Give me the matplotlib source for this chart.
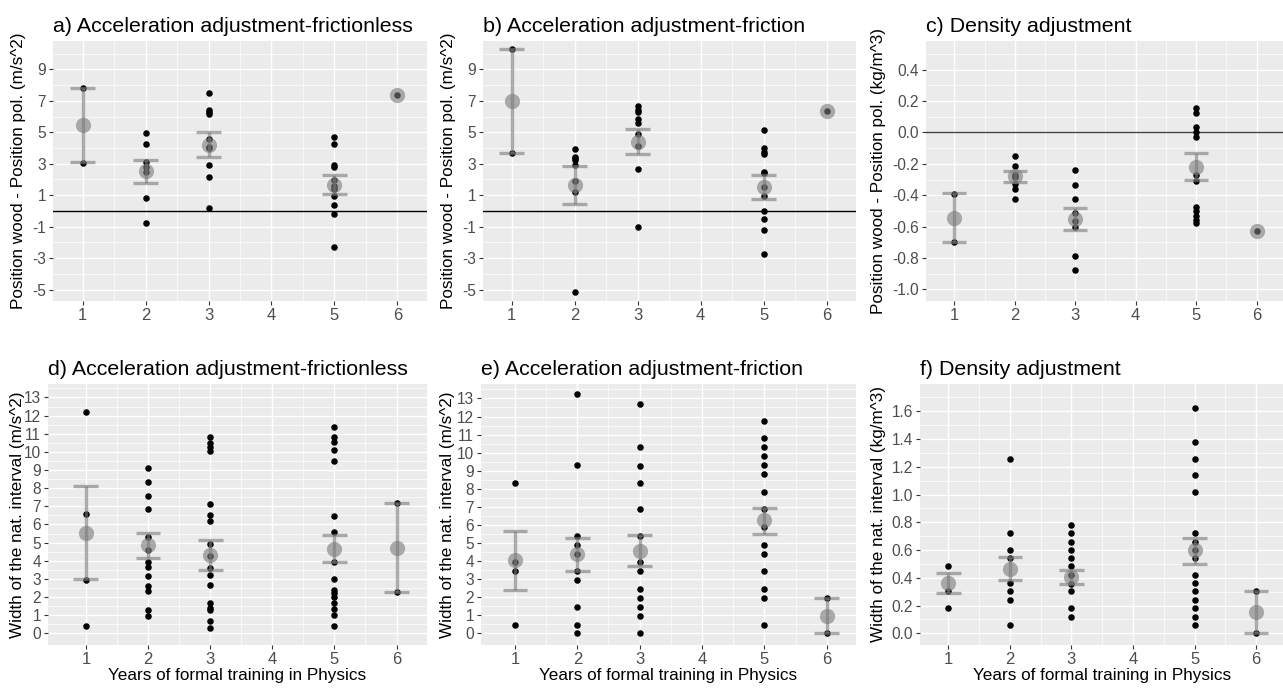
import numpy as np
import matplotlib.pyplot as plt
from matplotlib.ticker import FixedLocator, FormatStrFormatter

plt.rcParams['font.family'] = ['Liberation Sans', 'DejaVu Sans']

years = [1, 2, 3, 5, 6]

# a) position wood - position pol., acceleration frictionless
a_pts = {1: [7.84, 3.04],
         2: [4.95, 4.25, 3.13, 2.77, 2.5, 0.83, -0.78],
         3: [7.5, 6.4, 6.3, 6.15, 4.6, 4.08, 3.97, 2.92, 2.14, 0.17],
         5: [4.73, 4.25, 2.92, 2.81, 1.97, 1.61, 1.4, 0.97, 0.4, -0.17, -2.26],
         6: [7.35]}
a_mean = [5.47, 2.52, 4.2, 1.67, 7.35]
a_lo = [3.09, 1.78, 3.44, 1.1, np.nan]
a_hi = [7.84, 3.26, 5.0, 2.28, np.nan]

# b) acceleration with friction
b_pts = {1: [10.27, 3.66],
         2: [3.93, 3.45, 3.37, 3.23, 2.94, 1.93, 1.23, -5.15],
         3: [6.66, 6.4, 6.3, 5.87, 5.62, 4.88, 4.14, 2.66, -0.99],
         5: [5.13, 3.97, 3.76, 3.61, 2.45, 2.39, 1.5, 0.97, -0.02, -0.5, -1.24, -2.72],
         6: [6.38]}
b_mean = [7.0, 1.65, 4.4, 1.54, 6.38]
b_lo = [3.66, 0.47, 3.61, 0.76, np.nan]
b_hi = [10.27, 2.83, 5.2, 2.28, np.nan]

# c) density
c_pts = {1: [-0.39, -0.695],
         2: [-0.153, -0.214, -0.271, -0.286, -0.328, -0.36, -0.424],
         3: [-0.24, -0.333, -0.424, -0.513, -0.561, -0.604, -0.786, -0.875],
         5: [0.155, 0.121, 0.032, 0.006, -0.032, -0.273, -0.307, -0.477, -0.502,
             -0.53, -0.555, -0.576],
         6: [-0.631]}
c_mean = [-0.545, -0.28, -0.551, -0.218, -0.631]
c_lo = [-0.695, -0.318, -0.619, -0.305, np.nan]
c_hi = [-0.388, -0.244, -0.481, -0.131, np.nan]

# d) interval width, frictionless
d_pts = {1: [12.18, 6.56, 2.93, 0.4],
         2: [9.12, 8.33, 7.55, 6.87, 5.31, 4.62, 3.94, 3.66, 3.17, 2.62, 2.34, 1.28, 0.97],
         3: [10.8, 10.48, 10.26, 10.07, 7.14, 6.5, 6.17, 4.91, 4.25, 3.61, 3.24, 2.66,
             1.68, 1.41, 1.28, 0.7, 0.31],
         5: [11.39, 10.8, 10.53, 10.11, 9.52, 6.47, 5.59, 3.94, 2.97, 2.38, 2.25, 1.98,
             1.68, 1.32, 1.01, 0.4],
         6: [7.18, 2.29]}
d_mean = [5.53, 4.85, 4.3, 4.63, 4.73]
d_lo = [2.99, 4.16, 3.48, 3.92, 2.29]
d_hi = [8.1, 5.53, 5.13, 5.4, 7.18]

# e) interval width, friction
e_pts = {1: [8.32, 3.93, 3.44, 0.49],
         2: [13.22, 9.32, 5.39, 4.9, 4.42, 3.44, 2.93, 1.46, 0.49, 0.0],
         3: [12.72, 10.29, 9.29, 8.32, 6.86, 5.39, 3.93, 3.44, 2.47, 1.97, 1.46, 0.97, 0.0],
         5: [11.75, 10.79, 10.29, 9.8, 9.32, 8.81, 7.82, 6.86, 5.89, 4.9, 4.42, 3.44,
             2.47, 1.97, 0.49],
         6: [1.97, 0.0]}
e_mean = [4.08, 4.42, 4.57, 6.25, 0.99]
e_lo = [2.43, 3.47, 3.71, 5.52, 0.0]
e_hi = [5.67, 5.3, 5.45, 6.95, 1.97]

# f) interval width, density
f_pts = {1: [0.482, 0.303, 0.179],
         2: [1.258, 0.721, 0.602, 0.542, 0.363, 0.303, 0.239, 0.06],
         3: [0.783, 0.721, 0.661, 0.602, 0.542, 0.482, 0.423, 0.358, 0.303, 0.179, 0.119],
         5: [1.624, 1.38, 1.258, 1.141, 1.02, 0.721, 0.661, 0.602, 0.542, 0.423, 0.363,
             0.303, 0.239, 0.179, 0.119, 0.06],
         6: [0.303, 0.0]}
f_mean = [0.363, 0.461, 0.406, 0.597, 0.155]
f_lo = [0.287, 0.382, 0.353, 0.501, 0.0]
f_hi = [0.437, 0.549, 0.454, 0.688, 0.303]

W, H = 1283, 688
fig = plt.figure(figsize=(W / 100, H / 100), dpi=100)
fig.patch.set_facecolor('white')

GREY = '#7a7a7a'


def add_panel(box, xlim, ylim, yticks, yminor, yfmt, title, ylabel, pts, mean, lo, hi,
              lab_x, hline=None, hline_col='black', xlabel=None):
    l, t, r, b = box
    ax = fig.add_axes([l / W, 1 - b / H, (r - l) / W, (b - t) / H])
    ax.set_facecolor('#EBEBEB')
    for s in ax.spines.values():
        s.set_visible(False)
    ax.set_xlim(*xlim)
    ax.set_ylim(*ylim)
    ax.xaxis.set_major_locator(FixedLocator([1, 2, 3, 4, 5, 6]))
    ax.xaxis.set_minor_locator(FixedLocator([1.5, 2.5, 3.5, 4.5, 5.5]))
    ax.yaxis.set_major_locator(FixedLocator(yticks))
    ax.yaxis.set_minor_locator(FixedLocator(yminor))
    ax.yaxis.set_major_formatter(FormatStrFormatter(yfmt))
    ax.grid(which='major', color='white', lw=1.0, zorder=0)
    ax.grid(which='minor', color='white', lw=0.5, zorder=0)
    ax.set_axisbelow(True)
    ax.tick_params(which='major', length=3, width=0.8, color='#333333',
                   labelcolor='#4D4D4D', labelsize=11.2, pad=2)
    ax.tick_params(axis='x', which='major', labelsize=12)
    ax.tick_params(which='minor', length=0)
    if hline is not None:
        ax.axhline(hline, color=hline_col, lw=1.0, zorder=1)
    for x in years:
        ax.scatter([x] * len(pts[x]), pts[x], s=22, color='black', zorder=2, lw=0)
    for x, m, lo_, hi_ in zip(years, mean, lo, hi):
        if not np.isnan(lo_):
            ax.plot([x, x], [lo_, hi_], color=GREY, alpha=0.6, lw=2.4, zorder=3,
                    solid_capstyle='butt')
            for yv in (lo_, hi_):
                ax.plot([x - 0.2, x + 0.2], [yv, yv], color=GREY, alpha=0.6, lw=2.4,
                        zorder=3, solid_capstyle='butt')
    ax.scatter(years, mean, s=120, color=GREY, alpha=0.6, lw=0, zorder=4)
    ax.set_title(title, loc='left', fontsize=15.4, pad=6.5, color='black')
    ax.set_ylabel(ylabel, fontsize=12.3, color='black', va='center')
    ax.yaxis.set_label_coords((lab_x - l) / (r - l), 0.5)
    if xlabel:
        ax.set_xlabel(xlabel, fontsize=12.3, color='black', labelpad=1)
    return ax


pos_lab = 'Position wood - Position pol. (m/s^2)'
wid_lab = 'Width of the nat. interval (m/s^2)'
xl = 'Years of formal training in Physics'
odd = list(range(-5, 10, 2))
even = list(range(-4, 11, 2))
c_ticks = [-1.0, -0.8, -0.6, -0.4, -0.2, 0.0, 0.2, 0.4]
c_minor = [-0.9, -0.7, -0.5, -0.3, -0.1, 0.1, 0.3, 0.5]
f_ticks = [0.0, 0.2, 0.4, 0.6, 0.8, 1.0, 1.2, 1.4, 1.6]
f_minor = [0.1, 0.3, 0.5, 0.7, 0.9, 1.1, 1.3, 1.5, 1.7]
w_ticks = list(range(0, 14))
w_minor = [v + 0.5 for v in range(0, 14)]

add_panel((53, 41, 427, 301), (0.528, 6.472), (-5.72, 10.8), odd, even, '%d',
          'a) Acceleration adjustment-frictionless', pos_lab,
          a_pts, a_mean, a_lo, a_hi, 19, hline=0)
add_panel((483, 41, 856, 301), (0.544, 6.465), (-5.72, 10.8), odd, even, '%d',
          'b) Acceleration adjustment-friction', pos_lab,
          b_pts, b_mean, b_lo, b_hi, 449, hline=0)
add_panel((926, 41, 1285, 301), (0.532, 6.47), (-1.074, 0.583),
          c_ticks, c_minor, '%.1f',
          'c) Density adjustment', 'Position wood - Position pol. (kg/m^3)',
          c_pts, c_mean, c_lo, c_hi, 879, hline=0, hline_col='#444444')

add_panel((48, 384, 427, 645), (0.39, 6.49), (-0.64, 13.74),
          w_ticks, w_minor, '%d',
          'd) Acceleration adjustment-frictionless', wid_lab,
          d_pts, d_mean, d_lo, d_hi, 18, xlabel=xl)
add_panel((481, 384, 856, 645), (0.455, 6.47), (-0.64, 13.8),
          w_ticks, w_minor, '%d',
          'e) Acceleration adjustment-friction', wid_lab,
          e_pts, e_mean, e_lo, e_hi, 448, xlabel=xl)
add_panel((920, 384, 1285, 645), (0.54, 6.47), (-0.084, 1.796),
          f_ticks, f_minor, '%.1f',
          'f) Density adjustment', 'Width of the nat. interval (kg/m^3)',
          f_pts, f_mean, f_lo, f_hi, 878, xlabel=xl)

fig.savefig('out.png', dpi=100)
